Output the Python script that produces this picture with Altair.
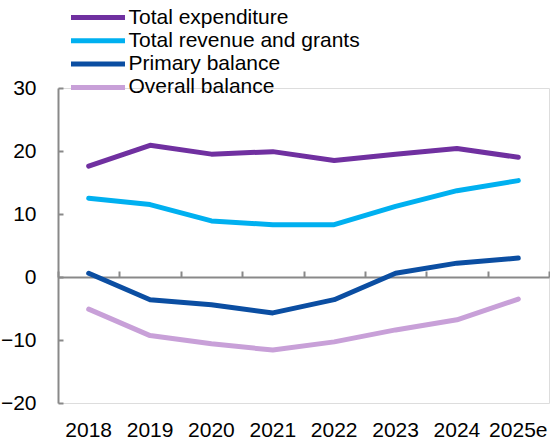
import altair as alt
import pandas as pd

years = ["2018", "2019", "2020", "2021", "2022", "2023", "2024", "2025e"]
series_names = ["Total expenditure", "Total revenue and grants", "Primary balance", "Overall balance"]
colors = ["#7030A0", "#00B0F0", "#0B4EA2", "#C8A0D8"]

total_expenditure = [17.6, 20.9, 19.5, 19.9, 18.5, 19.5, 20.4, 19.0]
total_revenue = [12.5, 11.5, 8.9, 8.3, 8.3, 11.2, 13.7, 15.3]
primary_balance = [0.6, -3.6, -4.4, -5.7, -3.6, 0.6, 2.2, 3.0]
overall_balance = [-5.1, -9.3, -10.6, -11.6, -10.3, -8.4, -6.8, -3.5]

values = [total_expenditure, total_revenue, primary_balance, overall_balance]
rows = []
for name, vals in zip(series_names, values):
    for y, v in zip(years, vals):
        rows.append({"year": y, "value": v, "series": name})
df = pd.DataFrame(rows)

FONT = "Liberation Sans"
FS = 21
W, H = 491, 315
AXC = "#898989"

yscale = alt.Scale(domain=[-20, 30], nice=False, zero=False)
xscale = alt.Scale(paddingInner=0, paddingOuter=0)

y_enc = alt.Y("value:Q", scale=yscale,
              axis=alt.Axis(title=None, values=[-20, -10, 0, 10, 20, 30], grid=False,
                            domainColor=AXC, domainWidth=2, tickColor=AXC, tickWidth=2,
                            tickSize={"expr": "-5"}, labelFont=FONT, labelFontSize=FS,
                            labelColor="#000000", labelPadding=27))

lines = alt.Chart(df).mark_line(strokeWidth=5, strokeCap="round", strokeJoin="round").encode(
    x=alt.X("year:O", sort=years, scale=xscale,
            axis=alt.Axis(orient="bottom", title=None, domain=False, ticks=False, labelAngle=0,
                          labelFont=FONT, labelFontSize=FS, labelColor="#000000", labelPadding=16)),
    y=y_enc,
    color=alt.Color("series:N", scale=alt.Scale(domain=series_names, range=colors),
                    legend=alt.Legend(orient="none", legendX=29.5, legendY=-81, title=None,
                                      symbolType="M-3.6,0H3.6", symbolSize=225,
                                      symbolStrokeWidth=5, labelFont=FONT, labelFontSize=FS,
                                      labelColor="#000000", labelOffset=20, rowPadding=1.3,
                                      labelLimit=0, padding=0)),
)

zero_axis = alt.Chart(df).mark_point(opacity=0).encode(
    x=alt.X("year:O", sort=years, scale=xscale,
            axis=alt.Axis(orient="bottom", title=None, labels=False, domain=True,
                          domainColor=AXC, domainWidth=2, tickColor=AXC, tickWidth=2,
                          tickSize={"expr": "-6"}, tickBand="extent", offset=-126)),
    y=y_enc,
)

chart = alt.layer(lines, zero_axis).resolve_axis(x="independent").properties(
    width=W, height=H,
    autosize=alt.AutoSizeParams(type="none"),
    padding={"left": 58, "top": 88, "right": 1, "bottom": 40},
).configure_view(strokeWidth=0, strokeOpacity=0).configure(background="white")

chart.save("out.html", embed_options={"renderer": "svg", "actions": False})
